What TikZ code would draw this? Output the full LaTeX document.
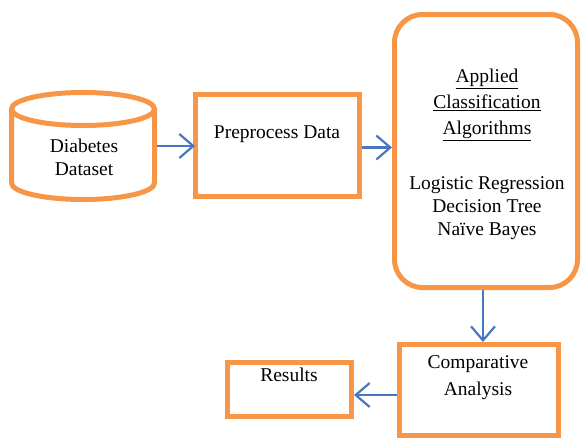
\documentclass[tikz,border=0pt]{standalone}
\usepackage{fontspec}
\setmainfont{Liberation Serif}
\usetikzlibrary{arrows.meta}
\definecolor{boxorange}{HTML}{F79646}
\definecolor{arrowblue}{HTML}{4777C0}
\tikzset{
  stagebox/.style={draw=boxorange, line width=5pt, inner sep=0pt},
  cylline/.style={draw=boxorange, line width=5pt},
  flowarrow/.style={draw=arrowblue, line width=2.2pt, -{Straight Barb[length=14pt,width=24pt,line width=2.2pt]}},
  txt/.style={font=\fontsize{19.5}{23}\selectfont, align=center, inner sep=0pt}
}
\begin{document}
\begin{tikzpicture}[x=1pt,y=-1pt]
  \useasboundingbox (0,0) rectangle (583,439);
  % stages
  \node[minimum width=143pt, minimum height=107pt, inner sep=0pt, outer sep=0pt] (data) at (83,146) {};
  \draw[cylline] (data.north) ++(0,16.5) ellipse [x radius=71.5pt, y radius=16.5pt];
  \draw[cylline] ([yshift=-16.5pt]data.north west) -- ([yshift=16.5pt]data.south west)
    arc[start angle=180, end angle=360, x radius=71.5pt, y radius=16.5pt]
    -- ([yshift=-16.5pt]data.north east);
  \node[stagebox, minimum width=164pt, minimum height=102pt] (prep) at (277.5,145.5) {};
  \node[stagebox, rounded corners=28pt, minimum width=183pt, minimum height=273pt] (algo) at (486,151) {};
  \node[stagebox, minimum width=159pt, minimum height=91pt] (comp) at (479,390) {};
  \node[stagebox, minimum width=124pt, minimum height=54pt] (res) at (289.5,389.5) {};

  % texts
  \node[txt] (datatxt) at (84,157) {Diabetes\\Dataset};
  \node[txt] (preptxt) at (277,134) {Preprocess Data};
  \node[txt, font=\fontsize{19.5}{26}\selectfont] (algohead) at (487,105)
    {\underline{Applied}\\\underline{Classification}\\\underline{Algorithms}};
  \node[txt] (algolist) at (487,208) {Logistic Regression\\Decision Tree\\Naïve Bayes};
  \node[txt, font=\fontsize{19.5}{27}\selectfont] (comptxt) at (478,378) {Comparative\\Analysis};
  \node[txt] (restxt) at (289,375) {Results};

  % arrows
  \draw[flowarrow] ([xshift=2pt]data.east) -- ([xshift=2pt]data.east -| prep.west);
  \draw[flowarrow] ([yshift=-2pt]prep.east) -- ([yshift=-2pt]prep.east -| algo.west);
  \draw[flowarrow] ([xshift=-3pt]algo.south) -- ([xshift=-3pt]algo.south |- comp.north);
  \draw[flowarrow] ([yshift=-5pt]comp.west) -- ([yshift=-5pt]comp.west -| res.east);
\end{tikzpicture}
\end{document}
